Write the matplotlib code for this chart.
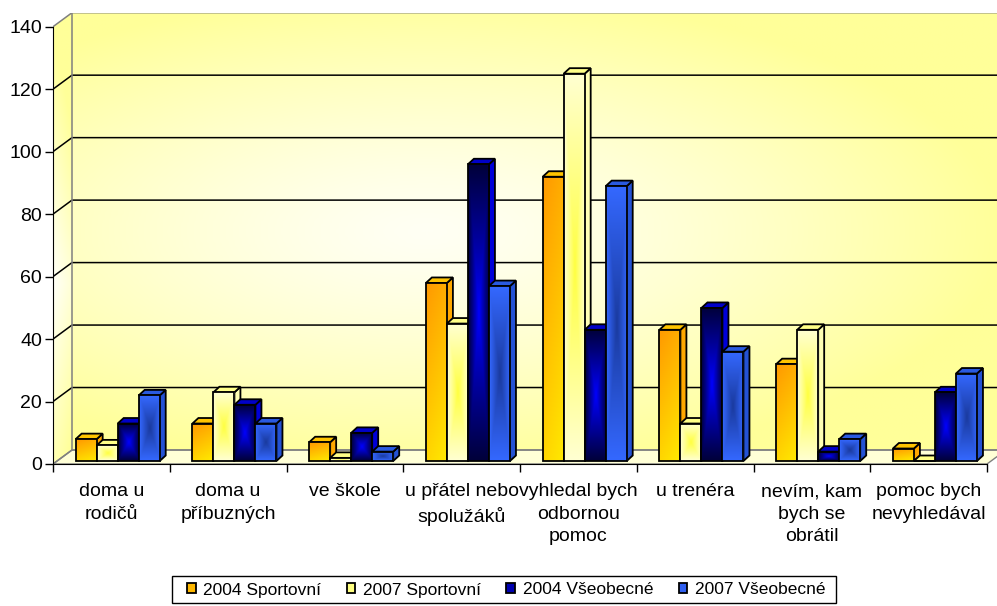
import numpy as np
import matplotlib.pyplot as plt
from matplotlib.patches import Polygon, Patch, Rectangle
from matplotlib.colors import LinearSegmentedColormap

plt.rcParams['font.family'] = ['Liberation Sans', 'DejaVu Sans']

categories = ['doma u\nrodičů', 'doma u\npříbuzných', 've škole', 'u přátel nebo\nspolužáků',
              'vyhledal bych\nodbornou\npomoc', 'u trenéra', 'nevím, kam\nbych se\nobrátil',
              'pomoc bych\nnevyhledával']
series_names = ['2004 Sportovní', '2007 Sportovní', '2004 Všeobecné', '2007 Všeobecné']
sport_2004 = [7, 12, 6, 57, 91, 42, 31, 4]
sport_2007 = [5, 22, 1, 44, 124, 12, 42, 0]
vseob_2004 = [12, 18, 9, 95, 42, 49, 3, 22]
vseob_2007 = [21, 12, 3, 56, 88, 35, 7, 28]
yticks = [0, 20, 40, 60, 80, 100, 120, 140]

W, H = 997, 606
fig = plt.figure(figsize=(W / 100, H / 100), dpi=100)
ax = fig.add_axes([53 / W, 1 - 464 / H, (W - 53) / W, (464 - 13) / H])

# pixel -> data scale
px_x = 116.75
px_y = 437.3 / 140
xmax = (W - 53) / px_x
ymax = (464 - 13) / px_y
ncat = len(categories)

# wall depth and bar geometry
DX, DY = 19 / px_x, 14 / px_y
x0, bw = 0.194, 0.18
b0 = 3 / px_y
bdx, bdy = 6 / px_x, 5.5 / px_y


def gradient(ax, arr, extent, colors, z, clip=None):
    cmap = LinearSegmentedColormap.from_list('g', colors)
    im = ax.imshow(arr, extent=extent, origin='upper', cmap=cmap, vmin=0, vmax=1,
                   aspect='auto', interpolation='bilinear', zorder=z)
    if clip is not None:
        im.set_clip_path(clip)
    return im


# back wall
u, v = np.meshgrid(np.linspace(0, 1, 400), np.linspace(0, 1, 200))
t = np.clip(np.hypot((u - 0.38) / 0.62, (v - 0.5) / 0.55), 0, 1) ** 1.3
gradient(ax, t, [DX, ncat + DX, DY, 140 + DY], ['#FFFFF4', '#FFFF99'], 1)

# side wall
side_wall = Polygon([(0, 0), (DX, DY), (DX, 140 + DY), (0, 140)], closed=True,
                    fc='none', ec='none', zorder=1)
ax.add_patch(side_wall)
u, v = np.meshgrid(np.linspace(0, 1, 20), np.linspace(0, 1, 200))
t = np.clip(np.abs(v - 0.6) / 0.55 + 0.35 * u, 0, 1)
gradient(ax, t, [0, DX, 0, 140 + DY], ['#FFFFF8', '#FFFF99'], 1, clip=side_wall)

# floor
ax.add_patch(Polygon([(0, 0), (ncat, 0), (ncat + DX, DY), (DX, DY)], closed=True,
                     fc='#FFFFD6', ec='#808080', lw=1, zorder=2))

# gridlines
for yv in yticks:
    c = '#808080' if yv in (0, 140) else 'black'
    ax.plot([0, DX, ncat + DX], [yv, yv + DY, yv + DY], color=c, lw=1.1, zorder=3)
ax.plot([DX, DX], [DY, 140 + DY], color='#808080', lw=1.1, zorder=3)

# bars
series = [sport_2004, sport_2007, vseob_2004, vseob_2007]
styles = [
    dict(mode='diag', cols=['#FF9900', '#FFEA00'], top='#FFC400', side='#FFA800', legend='#FFB800'),
    dict(mode='rect', cols=['#FFFF40', '#FFFFD2'], top='#FFFF88', side='#FFFFB4', legend='#FFFF80'),
    dict(mode='rect', cols=['#0000FF', '#00003A'], top='#0000C8', side='#0000D8', legend='#0000B0'),
    dict(mode='rect', cols=['#1A3A9E', '#3468FF'], top='#2A5AE0', side='#2452D4', legend='#3060F0'),
]
x = np.arange(ncat)
for k, vals in enumerate(series):
    st = styles[k]
    z = 10 + 4 * k
    bars = ax.bar(x + x0 + k * bw, vals, width=bw, bottom=b0, align='edge',
                  facecolor='none', edgecolor='black', lw=1.3, zorder=z + 3)
    for rect in bars:
        xl, yb = rect.get_x(), rect.get_y()
        w, h = rect.get_width(), rect.get_height()
        ax.add_patch(Polygon([(xl + w, yb), (xl + w + bdx, yb + bdy), (xl + w + bdx, yb + h + bdy),
                              (xl + w, yb + h)], closed=True, fc=st['side'], ec='black',
                             lw=1.3, zorder=z))
        ax.add_patch(Polygon([(xl, yb + h), (xl + bdx, yb + h + bdy), (xl + w + bdx, yb + h + bdy),
                              (xl + w, yb + h)], closed=True, fc=st['top'], ec='black',
                             lw=1.3, zorder=z + 1))
        if h > 0:
            rows = max(int(h * px_y), 4)
            uu, vv = np.meshgrid(np.linspace(0, 1, 30), np.linspace(0, 1, rows))
            if st['mode'] == 'diag':
                tt = 0.75 * vv + 0.25 * uu
            else:
                tt = np.maximum(np.abs(2 * uu - 1), np.abs(2 * vv - 1))
            gradient(ax, tt, [xl, xl + w, yb, yb + h], st['cols'], z + 2, clip=rect)

# axes
ax.set_xlim(0, xmax)
ax.set_ylim(0, ymax)
for s in ['top', 'right']:
    ax.spines[s].set_visible(False)
ax.spines['left'].set_bounds(0, 140)
ax.spines['bottom'].set_bounds(0, ncat)
ax.spines['left'].set_zorder(40)
ax.spines['bottom'].set_zorder(40)
ax.set_yticks(yticks)
ax.tick_params(axis='y', direction='out', length=6, width=1, pad=2, labelsize=14)
ax.set_xticks(np.arange(ncat + 1))
ax.set_xticklabels([])
ax.tick_params(axis='x', which='major', direction='out', length=6, width=1)
ax.set_xticks(x + 0.5, minor=True)
ax.set_xticklabels(categories, minor=True, fontsize=14, linespacing=1.42)
ax.tick_params(axis='x', which='minor', length=0, pad=14)

# legend with a hand-placed frame
handles = [Patch(facecolor=st['legend'], edgecolor='black', lw=1.3) for st in styles]
leg = fig.legend(handles, series_names, loc='center left', bbox_to_anchor=(187 / W, 1 - 590 / H),
                 ncol=4, frameon=False, fontsize=12.5,
                 handlelength=0.5, handleheight=0.5, handletextpad=0.45, columnspacing=1.45,
                 borderpad=0, borderaxespad=0)
fig.patches.append(Rectangle((172 / W, 1 - 603 / H), (836 - 172) / W, (603 - 576) / H,
                             transform=fig.transFigure, fill=False, ec='black', lw=1))

fig.savefig('out.png', dpi=100)
